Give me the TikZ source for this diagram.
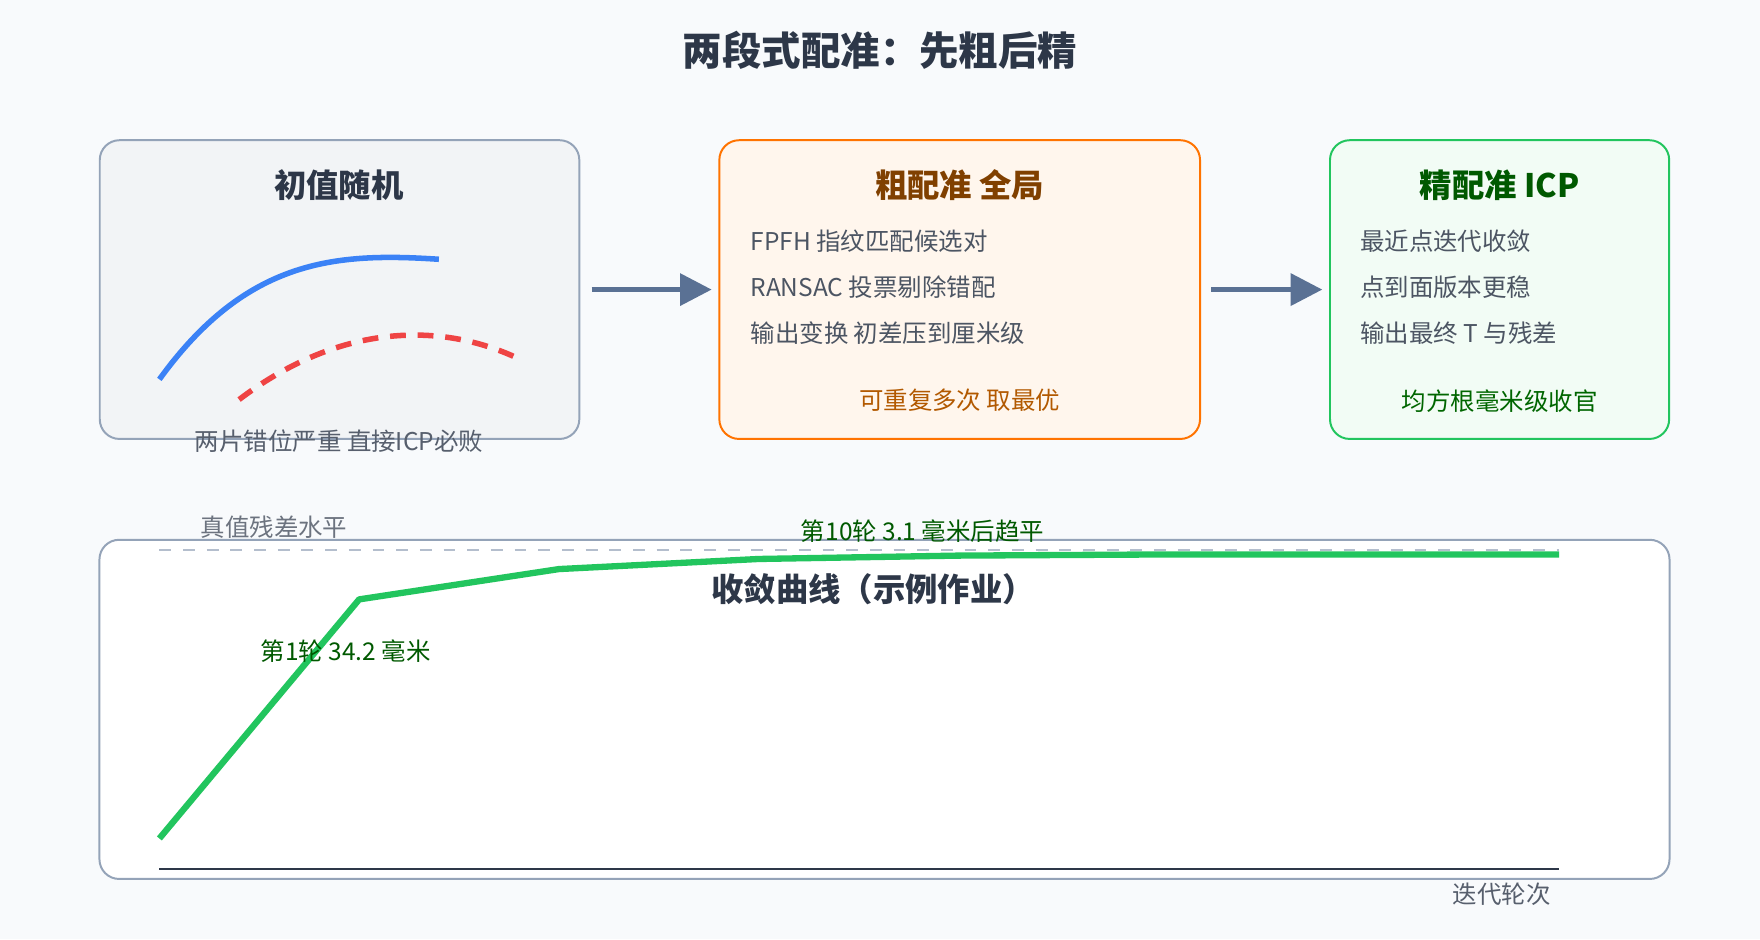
\documentclass[tikz,border=0pt]{standalone}
\usepackage{fontspec}
\setmainfont{Noto Sans CJK SC}
\usetikzlibrary{arrows.meta,positioning}
\definecolor{bgc}{HTML}{F8FAFC}
\definecolor{ink}{HTML}{2D3748}
\definecolor{greyline}{HTML}{94A3B8}
\definecolor{arrowc}{HTML}{5A7194}
\definecolor{okgreen}{HTML}{22C55E}
\definecolor{curveblue}{HTML}{3B82F6}
\definecolor{curvered}{HTML}{EF4444}
\tikzset{
  panel/.style={draw, rounded corners=5pt, line width=0.5pt, minimum width=#1, minimum height=2.66cm, inner sep=0pt},
  head/.style={font=\fontsize{8.2}{10}\selectfont\bfseries},
  item/.style={font=\fontsize{6.2}{7}\selectfont, anchor=west, inner sep=0pt, text=ink!85},
  flow/.style={arrowc, line width=1.2pt, -{Triangle[length=8pt,width=8pt]}}
}
\begin{document}
\begin{tikzpicture}[x=0.01cm,y=-0.01cm]
  \fill[bgc] (0,0) rectangle (1568,837);
  \useasboundingbox (0,0) rectangle (1568,837);

  % Title
  \node[font=\fontsize{10}{12}\selectfont\bfseries, text=ink] (title) at (784,45) {两段式配准：先粗后精};

  % Three stage panels
  \node[panel=4.27cm, fill=greyline!12, draw=greyline] (rand) at (302.5,258) {};
  \node[panel=4.28cm, fill=orange!7, draw=orange!90!red] (coarse) at (855,258) {};
  \node[panel=3.02cm, fill=okgreen!6, draw=okgreen] (fine) at (1336,258) {};

  \node[head, text=ink] at (302,165) {初值随机};
  \draw[curveblue, line width=1.4pt] (142,338) .. controls (220,230) and (300,225) .. (391,231);
  \draw[curvered, line width=1.4pt, dash pattern=on 4pt off 3pt] (213,356) .. controls (300,290) and (390,285) .. (463,320);
  \node[font=\fontsize{6.2}{7}\selectfont, text=ink!80] at (302,393) {两片错位严重 直接ICP必败};

  \node[head, text=orange!50!black] at (855,165) {粗配准 全局};
  \node[item] at (668,215) {FPFH 指纹匹配候选对};
  \node[item] at (668,256) {RANSAC 投票剔除错配};
  \node[item] at (668,297) {输出变换 初差压到厘米级};
  \node[font=\fontsize{6.2}{7}\selectfont, text=orange!70!black] at (855,357) {可重复多次 取最优};

  \node[head, text=green!35!black] at (1336,165) {精配准 ICP};
  \node[item] at (1211,215) {最近点迭代收敛};
  \node[item] at (1211,256) {点到面版本更稳};
  \node[item] at (1211,297) {输出最终 T 与残差};
  \node[font=\fontsize{6.2}{7}\selectfont, text=green!40!black] at (1336,357) {均方根毫米级收官};

  \draw[flow] ([xshift=0.1cm]rand.east) -- ([xshift=-0.06cm]coarse.west);
  \draw[flow] ([xshift=0.09cm]coarse.east) -- ([xshift=-0.06cm]fine.west);

  % Convergence chart
  \node[panel=13.98cm, minimum height=3.02cm, fill=white, draw=greyline] (chart) at (788,632) {};
  \draw[greyline!70, dashed, line width=0.5pt] (142,490) -- (1389,490);
  \node[font=\fontsize{6.2}{7}\selectfont, text=ink!70, anchor=west, inner sep=0pt] at (178,470) {真值残差水平};
  \node[head, text=ink] at (778,525) {收敛曲线（示例作业）};
  \draw[okgreen, line width=1.6pt, line join=round] (142,747) -- (320,534) -- (498,507) -- (676,498) -- (854,495) -- (1032,494) -- (1389,494);
  \node[font=\fontsize{6.2}{7}\selectfont, text=green!35!black] at (822,473) {第10轮 3.1 毫米后趋平};
  \node[font=\fontsize{6.2}{7}\selectfont, text=green!35!black] at (308,580) {第1轮 34.2 毫米};
  \draw[ink, line width=0.6pt] (142,774) -- (1389,774);
  \node[font=\fontsize{6.2}{7}\selectfont, text=ink!80] at (1338,797) {迭代轮次};
\end{tikzpicture}
\end{document}
